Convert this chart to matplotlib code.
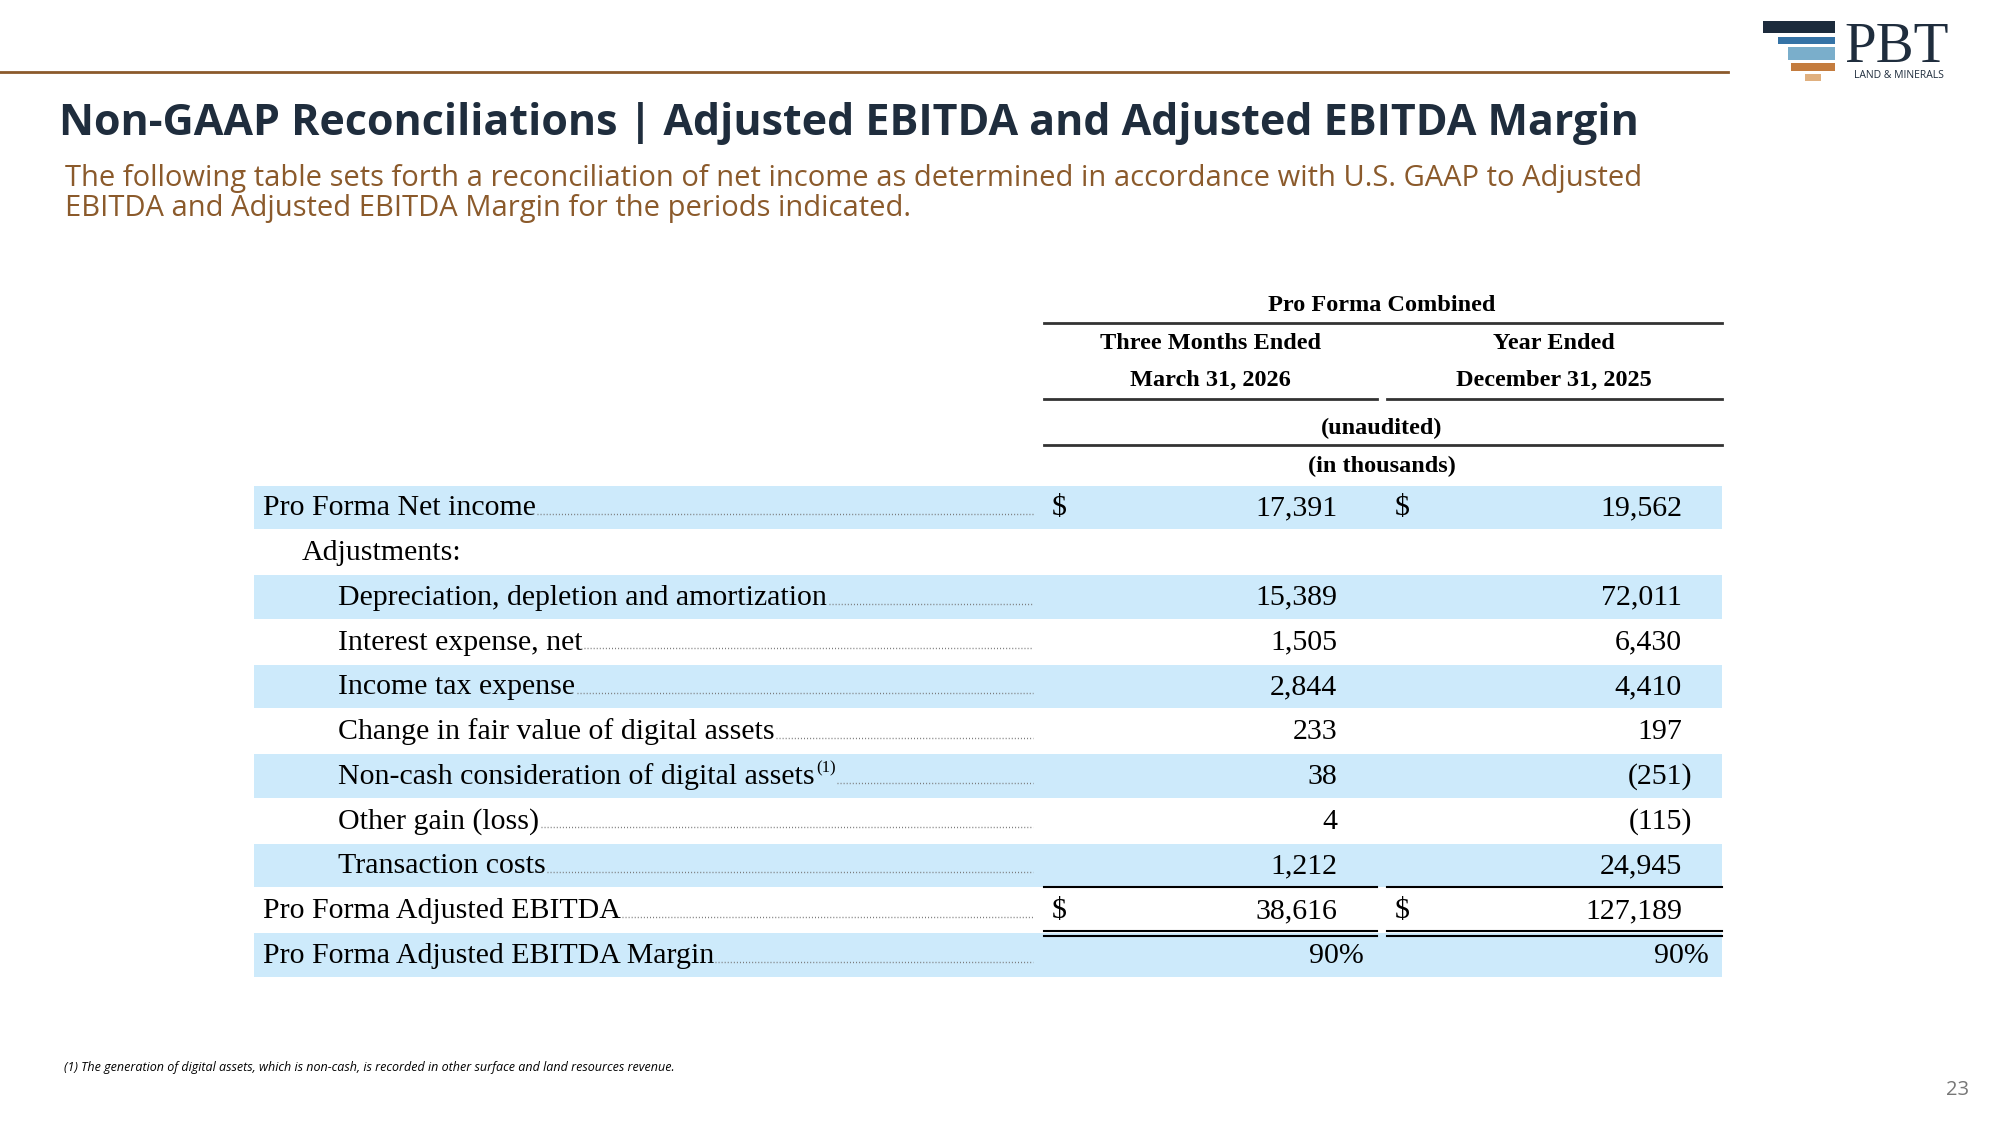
import matplotlib.pyplot as plt
from matplotlib.patches import Rectangle

# chart data
title = 'Non-GAAP Reconciliations | Adjusted EBITDA and Adjusted EBITDA Margin'
subtitle = ('The following table sets forth a reconciliation of net income as determined in accordance with U.S. GAAP to Adjusted\n'
            'EBITDA and Adjusted EBITDA Margin for the periods indicated.')
labels = ['Pro Forma Net income', 'Adjustments:', 'Depreciation, depletion and amortization',
          'Interest expense, net', 'Income tax expense', 'Change in fair value of digital assets',
          'Non-cash consideration of digital assets', 'Other gain (loss)', 'Transaction costs',
          'Pro Forma Adjusted EBITDA', 'Pro Forma Adjusted EBITDA Margin']
levels = [0, 1, 2, 2, 2, 2, 2, 2, 2, 0, 0]
q1_2026 = ['17,391', '', '15,389', '1,505', '2,844', '233', '38', '4', '1,212', '38,616', '90%']
fy_2025 = ['19,562', '', '72,011', '6,430', '4,410', '197', '(251)', '(115)', '24,945', '127,189', '90%']
dollar_rows = [0, 9]
shaded_rows = [0, 2, 4, 6, 8, 10]
footnote = '(1) The generation of digital assets, which is non-cash, is recorded in other surface and land resources revenue.'

W, H = 1560, 1560 * 1125 / 2000
fig = plt.figure(figsize=(20, 11.25), dpi=100)
ax = fig.add_axes([0, 0, 1, 1])
ax.set_xlim(0, W)
ax.set_ylim(H, 0)
ax.axis('off')

navy = '#1f2d3d'
brown = '#8b5a2b'
shade = '#cdeafb'
serif = 'Liberation Serif'
fs = 21.5

# header
ax.plot([0, 1348], [56, 56], color=brown, lw=2)
ax.text(46, 96, title, fontsize=31, fontweight='bold', color=navy, family='Open Sans', va='center')
ax.text(51, 151, subtitle, fontsize=21, color=brown, family='Open Sans', va='center', linespacing=1.05)

# logo
for (x0, x1, y0, y1, c) in [(1375, 1431, 16.4, 25.7, '#1c2b3c'), (1387, 1431, 28.9, 34.3, '#3573a6'),
                            (1395, 1431, 36.7, 46.8, '#7aaecb'), (1397, 1431, 49, 55.4, '#c47c3e'),
                            (1408, 1420, 57.7, 63.2, '#e0b07f')]:
    ax.add_patch(Rectangle((x0, y0), x1 - x0, y1 - y0, color=c, lw=0))
ax.text(1439, 48, 'PBT', fontsize=41, family=serif, color=navy, va='baseline')
ax.text(1446, 61, 'LAND & MINERALS', fontsize=7.5, family='Open Sans', color=navy, va='baseline')

# column headers
hb = dict(family=serif, fontweight='bold', fontsize=17.5, ha='center', va='center')
ax.text(1078, 238, 'Pro Forma Combined', **hb)
ax.plot([814, 1343], [252, 252], color='#333', lw=2)
ax.text(944, 268, 'Three Months Ended', **hb)
ax.text(944, 297, 'March 31, 2026', **hb)
ax.text(1212, 268, 'Year Ended', **hb)
ax.text(1212, 297, 'December 31, 2025', **hb)
ax.plot([814, 1074], [311, 311], color='#333', lw=2)
ax.plot([1082, 1343], [311, 311], color='#333', lw=2)
ax.text(1078, 334, '(unaudited)', **hb)
ax.plot([814, 1343], [347, 347], color='#333', lw=2)
ax.text(1078, 364, '(in thousands)', **hb)

# rows
fig.canvas.draw()
rend = fig.canvas.get_renderer()
y0, dy = 396, 34.9
for i, lab in enumerate(labels):
    y = y0 + i * dy
    if i in shaded_rows:
        ax.add_patch(Rectangle((198, y - 17), 1145, 34, color=shade, lw=0, zorder=0))
    x = [205, 235, 264][levels[i]]
    t = ax.text(x, y + 6, lab, family=serif, fontsize=fs, va='baseline')
    bb = t.get_window_extent(rend).transformed(ax.transData.inverted())
    xe = bb.x1
    if i == 6:
        s = ax.text(xe + 1, y - 3, '(1)', family=serif, fontsize=12, va='baseline')
        xe = s.get_window_extent(rend).transformed(ax.transData.inverted()).x1
    if i != 1:
        ax.plot([xe + 1, 806], [y + 5, y + 5], color='#777', lw=1, ls=(0, (0.7, 1.5)))
    if i in dollar_rows:
        ax.text(820, y + 6, '$', family=serif, fontsize=fs, va='baseline')
        ax.text(1088, y + 6, '$', family=serif, fontsize=fs, va='baseline')
    for v, xr in [(q1_2026[i], 1043), (fy_2025[i], 1312)]:
        if v.endswith(')'):
            xr += 8
        elif v.endswith('%'):
            xr += 21
        ax.text(xr, y + 6, v, family=serif, fontsize=fs, va='baseline', ha='right')

# total rules
ax.plot([814, 1074], [692, 692], color='black', lw=1.5)
ax.plot([1082, 1343], [692, 692], color='black', lw=1.5)
for yy in [726, 730]:
    ax.plot([814, 1074], [yy, yy], color='black', lw=1.5)
    ax.plot([1082, 1343], [yy, yy], color='black', lw=1.5)

ax.text(50, 833, footnote, fontsize=9, style='italic', family='Open Sans', va='center')
ax.text(1536, 850, '23', fontsize=14.5, color='#777', family='Open Sans', va='center', ha='right')

fig.savefig('out.png', dpi=100)
